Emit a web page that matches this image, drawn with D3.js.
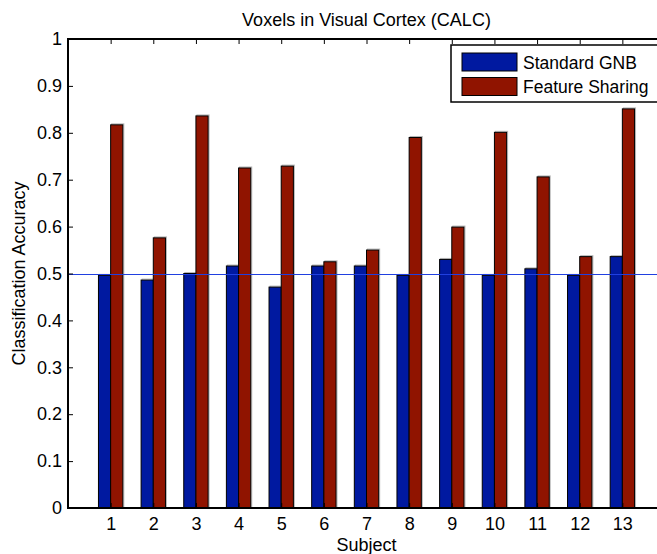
<!DOCTYPE html>
<html>
<head>
<meta charset="utf-8">
<script src="https://cdn.jsdelivr.net/npm/d3@7"></script>
<style>
  body { margin: 0; background: #fff; }
  svg { display: block; font-family: "Liberation Sans", Arial, Helvetica, sans-serif; }
</style>
</head>
<body>
<svg id="chart" width="657" height="554"></svg>
<script>
// values
const subjects = [1, 2, 3, 4, 5, 6, 7, 8, 9, 10, 11, 12, 13]
const standardGNB = [0.496, 0.486, 0.5, 0.516, 0.471, 0.516, 0.516, 0.496, 0.53, 0.496, 0.51, 0.496, 0.536]
const featureSharing = [0.817, 0.576, 0.836, 0.725, 0.729, 0.525, 0.55, 0.79, 0.599, 0.801, 0.706, 0.536, 0.851]
const yTicks = [0, 0.1, 0.2, 0.3, 0.4, 0.5, 0.6, 0.7, 0.8, 0.9, 1]
const chance = 0.5
const seriesNames = ['Standard GNB', 'Feature Sharing']
const seriesColors = ['#0019a0', '#901400']

const svg = d3.select('#chart')
const axL = 68, axR = 665, axT = 39, axB = 508
const x = d3.scaleLinear().domain([0, 14]).range([axL, axR])
const y = d3.scaleLinear().domain([0, 1]).range([axB, axT])
const bw = 2 / 7 // bar width in x units (matlab grouped bars)

const series = [standardGNB, featureSharing]
series.forEach((vals, s) => {
    const g = svg.append('g')
    const data = subjects.map((d, i) => ({ s: d, v: vals[i] }))
    // faint shadow like the matlab render
    g.selectAll('.shadow')
        .data(data)
        .enter()
        .append('rect')
        .attr('x', d => x(d.s + (s - 1) * bw) + 1)
        .attr('y', d => y(d.v) - 1)
        .attr('width', x(bw) - x(0))
        .attr('height', d => y(0) - y(d.v) + 1)
        .attr('fill', 'none')
        .attr('stroke', '#b8b8b8')
        .attr('stroke-width', 1)
    g.selectAll('.bar')
        .data(data)
        .enter()
        .append('rect')
        .attr('x', d => x(d.s + (s - 1) * bw))
        .attr('y', d => y(d.v))
        .attr('width', x(bw) - x(0))
        .attr('height', d => y(0) - y(d.v))
        .attr('fill', seriesColors[s])
        .attr('stroke', '#000')
        .attr('stroke-width', 1)
})

// chance line
svg.append('line')
    .attr('x1', axL).attr('x2', axR)
    .attr('y1', Math.round(y(chance)) + 0.5).attr('y2', Math.round(y(chance)) + 0.5)
    .attr('stroke', '#2040e0')
    .attr('stroke-width', 1)

// axes
const xAxis = d3.axisBottom(x).tickValues(subjects).tickSize(-5).tickPadding(9).tickFormat(d3.format('d'))
const xAxisTop = d3.axisTop(x).tickValues(subjects).tickSize(-5).tickFormat('')
const yAxis = d3.axisLeft(y).tickValues(yTicks).tickSize(-5).tickPadding(6).tickFormat(d => d === 0 || d === 1 ? d3.format('d')(d) : d3.format('.1f')(d))

const gx = svg.append('g').attr('transform', `translate(0,${axB})`).call(xAxis)
const gxt = svg.append('g').attr('transform', `translate(0,${axT})`).call(xAxisTop)
const gy = svg.append('g').attr('transform', `translate(${axL},0)`).call(yAxis)
;[gx, gxt, gy].forEach(g => {
    g.select('.domain').remove()
    g.selectAll('.tick line').attr('stroke', '#000')
    g.selectAll('text').attr('font-size', 18).attr('fill', '#000')
    g.attr('font-family', null).attr('font-size', null)
})

svg.append('rect')
    .attr('x', axL).attr('y', axT)
    .attr('width', axR - axL).attr('height', axB - axT)
    .attr('fill', 'none')
    .attr('stroke', '#000')
    .attr('stroke-width', 2)

// labels
svg.append('text')
    .attr('x', (axL + axR) / 2).attr('y', 26)
    .attr('text-anchor', 'middle').attr('font-size', 18)
    .text('Voxels in Visual Cortex (CALC)')
svg.append('text')
    .attr('x', (axL + axR) / 2).attr('y', 551)
    .attr('text-anchor', 'middle').attr('font-size', 18)
    .text('Subject')
svg.append('text')
    .attr('transform', `translate(25,${(axT + axB) / 2}) rotate(-90)`)
    .attr('text-anchor', 'middle').attr('font-size', 18)
    .text('Classification Accuracy')

// legend
const lg = svg.append('g')
lg.append('rect')
    .attr('x', 451).attr('y', 45).attr('width', 210).attr('height', 57)
    .attr('fill', '#fff').attr('stroke', '#000').attr('stroke-width', 1.5)
seriesNames.forEach((name, i) => {
    lg.append('rect')
        .attr('x', 462).attr('y', 53 + i * 24.5)
        .attr('width', 55).attr('height', 18)
        .attr('fill', seriesColors[i]).attr('stroke', '#000').attr('stroke-width', 1)
    lg.append('text')
        .attr('x', 523).attr('y', 69 + i * 24)
        .attr('font-size', 17.5)
        .text(name)
})
</script>
</body>
</html>
